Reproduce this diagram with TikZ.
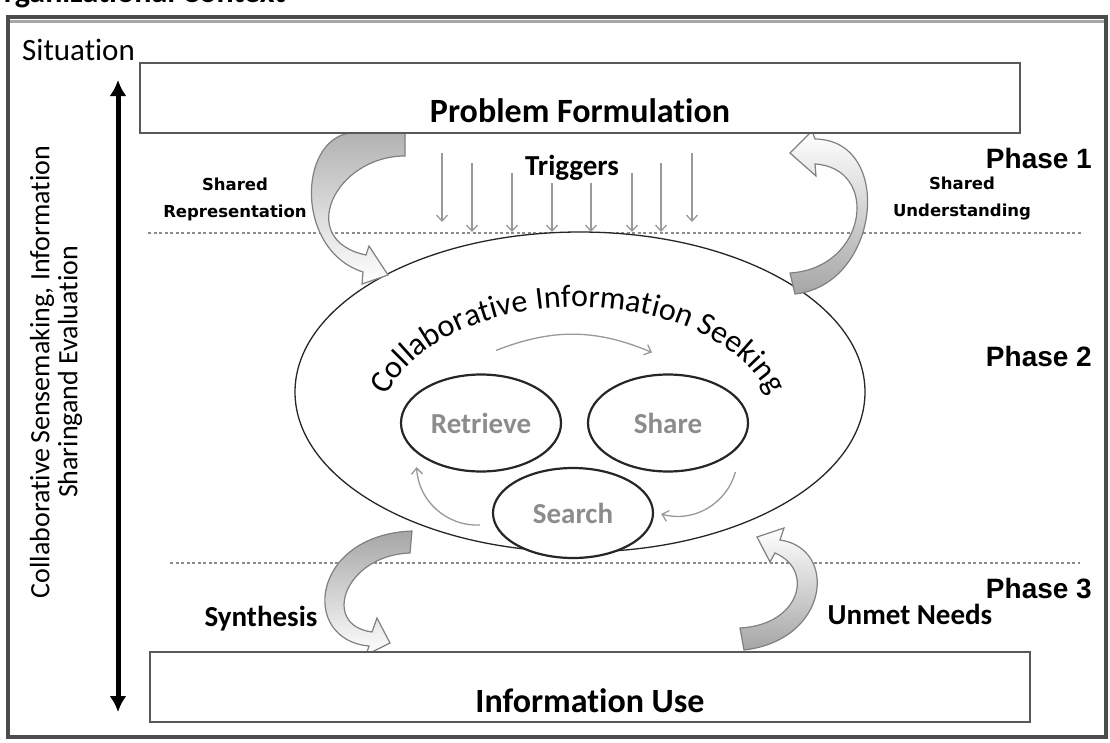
\documentclass[tikz,border=0pt]{standalone}
\usepackage{fontspec}
\setmainfont{Carlito}[Ligatures=NoCommon]
\newfontfamily\phasefont{Liberation Sans}
\newfontfamily\sharedfont{DejaVu Sans}
\usetikzlibrary{arrows.meta,decorations.text,shapes.geometric,positioning}
\newcommand{\px}[1]{\fontsize{#1}{#1}\selectfont}

\begin{document}
\begin{tikzpicture}[x=1pt,y=-1pt,
  box node/.style={draw=black!65,line width=2.5pt,minimum width=880pt,minimum height=70pt,inner sep=0pt},
  phase node/.style={font=\phasefont\bfseries\px{28},anchor=base east,inner sep=0pt},
  label node/.style={font=\bfseries\px{29},inner sep=0pt},
  shared node/.style={font=\sharedfont\bfseries\fontsize{16.5}{27}\selectfont,align=center,inner sep=0pt},
  task node/.style={ellipse,draw=black!85,line width=2.2pt,fill=white,minimum width=160pt,minimum height=97pt,inner sep=0pt,font=\bfseries\px{29},text=black!45},
  cycle arrow/.style={draw=black!40,line width=1.3pt,-{Straight Barb[length=6pt,width=11pt]}},
  trigger arrow/.style={draw=black!40,line width=1.3pt,-{Straight Barb[length=6pt,width=11pt]}},
  block arrow/.style={draw=black!50,line width=1.2pt,middle color=white},
  phase line/.style={draw=black!45,line width=1.5pt,dash pattern=on 3pt off 2.5pt}]

\useasboundingbox (0,0) rectangle (1110,742);
\fill[white] (0,0) rectangle (1110,742);

% cut-off heading
\begin{scope}
  \clip (0,0) rectangle (1110,742);
  \node[anchor=base west,font=\bfseries\px{32},inner sep=0pt] (orgctx) at (-18,2) {Organizational Context};
\end{scope}

% frame
\draw[line width=3.5pt,black!70] (8,17) rectangle (1106,737);
\draw[line width=3pt,black!35] (10,21.5) -- (1104,21.5);
\node[anchor=base west,font=\px{31},inner sep=0pt] (situation) at (22,60) {Situation};

% phase separators
\draw[phase line] (148,233) -- (1082,233);
\draw[phase line] (170,563) -- (1080,563);

% side axis
\coordinate (axtop) at (118,80);
\coordinate (axbot) at (118,712);
\draw[line width=5pt,{Latex[length=16pt,width=17pt]}-{Latex[length=16pt,width=17pt]}] (axtop) -- (axbot);
\node[rotate=90,align=center,font=\fontsize{28}{28}\selectfont,inner sep=0pt] (sidelbl) at (56,372)
  {Collaborative\,Sensemaking, Information\\Sharingand Evaluation};

% seeking
\node[ellipse,draw=black!85,line width=1.3pt,fill=white,minimum width=570pt,minimum height=320pt,inner sep=0pt] (cis) at (580,392) {};
\path[decorate,decoration={text along path,text align=center,
  text={|\px{32}|Collaborative Information Seeking}}]
  (384.8,399.6) arc[start angle=165,end angle=15,x radius=200pt,y radius=125pt];

\node[task node] (retrieve) at (481,423) {Retrieve};
\node[task node] (share) at (668,423) {Share};
\node[task node,minimum height=90pt] (search) at (573,513) {Search};

\draw[cycle arrow] ([shift={(15,-23)}]retrieve.north) to[bend left=22] ([shift={(-16,-21)}]share.north);
\draw[cycle arrow] ([shift={(10,14)}]share.south east) to[bend left=45] ([shift={(7,1)}]search.east);
\draw[cycle arrow] ([shift={(-12,12)}]search.west) to[bend left=45] ([shift={(-7,9)}]retrieve.south west);

% triggers
\foreach \x/\t/\b in {442/153/222,472/163/232,512/173/232,552/183/232,591/183/232,632/173/232,661/163/232,692/153/222}
  \draw[trigger arrow] (\x,\t) -- (\x,\b);
\node[label node,anchor=base] (triggers) at (572,175) {Triggers};

% curved block arrows
\shadedraw[block arrow,top color=black!30,bottom color=white]
  (405,133) -- (405,156)
  .. controls (335,156) and (295,240) .. (366,255)
  -- (369,246) -- (388,275) -- (362,284) -- (363,272)
  .. controls (295,250) and (298,140) .. (350,133) -- cycle;
\shadedraw[block arrow,bottom color=black!35,top color=white]
  (790,273) -- (795,294)
  .. controls (880,285) and (895,140) .. (815,139)
  -- (812,131) -- (790,153) -- (816,176) -- (815,164)
  .. controls (880,168) and (868,268) .. (790,273) -- cycle;
\shadedraw[block arrow,top color=black!35,bottom color=white]
  (412,531) -- (410,553)
  .. controls (345,555) and (320,625) .. (372,632)
  -- (377,618) -- (390,643) -- (366,655) -- (369,646)
  .. controls (300,640) and (310,535) .. (412,531) -- cycle;
\shadedraw[block arrow,bottom color=black!35,top color=white]
  (740,628) -- (744,650)
  .. controls (830,640) and (838,548) .. (780,540)
  -- (784,528) -- (757,537) -- (770,562) -- (775,553)
  .. controls (815,570) and (800,625) .. (740,628) -- cycle;

% boxes
\node[box node,fill=white] (pf) at (580,98) {};
\node[label node,font=\bfseries\px{34},anchor=base] (pflbl) at (580,122) {Problem Formulation};
\node[box node,fill=white] (use) at (590,687) {};
\node[label node,font=\bfseries\px{34},anchor=base] (uselbl) at (590,712) {Information Use};

% labels
\node[shared node] (sharedrep) at (235,199) {Shared\\Representation};
\node[shared node] (sharedund) at (962,199) {Shared\\Understanding};
\node[label node,anchor=base] (synth) at (261,626) {Synthesis};
\node[label node,anchor=base] (unmet) at (910,624) {Unmet Needs};
\node[phase node] (ph1) at (1092,168) {Phase 1};
\node[phase node] (ph2) at (1092,366) {Phase 2};
\node[phase node] (ph3) at (1092,598) {Phase 3};

\end{tikzpicture}
\end{document}
